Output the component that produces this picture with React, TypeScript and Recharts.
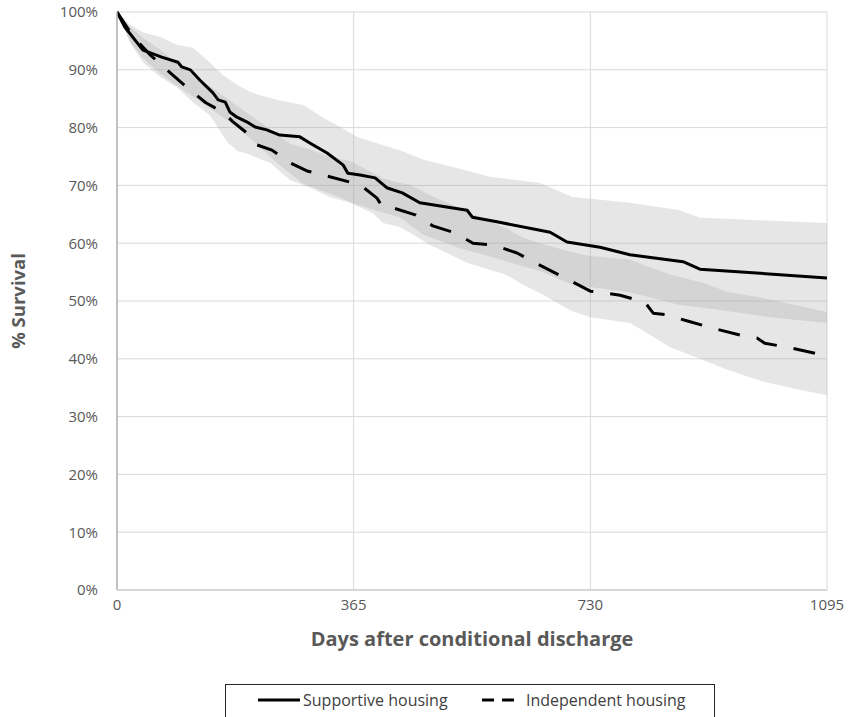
import React from "react";
import { ComposedChart, Area, Line, XAxis, YAxis, CartesianGrid } from "recharts";

// Supportive housing (solid line) – days and % survival
const supDays = [0, 12, 40, 69, 94, 100, 113, 128, 148, 156, 167, 174, 185, 200, 213, 231, 251, 282, 298, 324, 349, 356, 375, 398, 416, 440, 467, 540, 548, 586, 668, 694, 745, 791, 873, 899, 1095];
const supVals = [100, 97.4, 93.4, 92.2, 91.3, 90.5, 90.0, 88.2, 86.0, 84.8, 84.4, 82.7, 81.8, 81.0, 80.1, 79.6, 78.7, 78.4, 77.3, 75.6, 73.5, 72.1, 71.8, 71.3, 69.6, 68.7, 67.0, 65.7, 64.5, 63.7, 61.9, 60.2, 59.3, 58.0, 56.8, 55.5, 54.0];

// Independent housing (dashed line)
const indDays = [0, 25, 51, 69, 91, 116, 137, 163, 179, 200, 216, 239, 267, 293, 328, 375, 401, 409, 426, 460, 487, 521, 549, 580, 617, 652, 691, 730, 776, 814, 827, 848, 884, 922, 961, 987, 999, 1038, 1095];
const indVals = [100, 95.7, 92.6, 90.8, 88.6, 86.2, 84.3, 82.7, 81.0, 79.1, 77.0, 76.1, 73.9, 72.5, 71.5, 70.1, 67.8, 66.3, 66.1, 64.9, 63.0, 61.8, 60.0, 59.7, 58.3, 56.2, 54.0, 51.7, 51.0, 49.8, 47.9, 47.6, 46.4, 45.2, 44.1, 43.6, 42.7, 41.9, 40.5];

// Supportive housing 95% CI band
const supBandDays = [0, 20, 40, 66, 93, 117, 143, 163, 185, 205, 221, 251, 287, 318, 344, 370, 401, 436, 472, 524, 575, 652, 703, 791, 868, 899, 1007, 1095];
const supBandHigh = [100, 97.8, 96.5, 95.7, 94.3, 93.8, 91.3, 89.1, 87.4, 86.2, 85.6, 84.7, 83.9, 81.7, 80.1, 78.4, 77.3, 76.1, 74.5, 73.0, 71.5, 70.4, 68.0, 67.0, 65.7, 64.4, 63.9, 63.5];
const supBandLow = [100, 94.8, 92.0, 89.4, 87.2, 85.4, 83.3, 81.8, 80.0, 78.2, 76.5, 73.5, 70.3, 69.0, 67.9, 66.7, 65.6, 64.5, 61.5, 59.3, 57.7, 55.2, 52.8, 51.5, 49.3, 48.9, 47.2, 46.2];

// Independent housing 95% CI band
const indBandDays = [0, 20, 40, 66, 93, 117, 143, 170, 185, 205, 236, 267, 298, 328, 359, 395, 410, 436, 452, 483, 540, 575, 601, 626, 652, 699, 730, 791, 817, 853, 904, 941, 992, 1038, 1095];
const indBandHigh = [100, 97.5, 95.5, 93.5, 91.0, 89.2, 87.2, 85.0, 83.8, 82.2, 79.7, 77.2, 76.2, 74.9, 74.2, 72.1, 71.2, 70.4, 70.1, 68.3, 65.5, 63.8, 62.5, 61.0, 60.0, 58.5, 57.8, 57.2, 56.0, 54.6, 53.1, 51.6, 50.6, 49.5, 48.1];
const indBandLow = [100, 94.8, 91.3, 88.8, 86.9, 84.4, 82.2, 77.5, 76.0, 75.3, 73.9, 70.9, 69.6, 68.0, 67.0, 65.2, 63.5, 62.8, 61.8, 59.7, 56.6, 55.4, 54.5, 52.8, 51.4, 48.4, 47.2, 46.2, 44.5, 42.0, 39.8, 38.1, 36.2, 35.0, 33.7];

const xTicks = [0, 365, 730, 1095];
const yTicks = [0, 10, 20, 30, 40, 50, 60, 70, 80, 90, 100];
const seriesNames = ["Supportive housing", "Independent housing"];

const FONT = "'Open Sans', 'Liberation Sans', sans-serif";
const GREY = "#595959";

const supLine = supDays.map((d, i) => ({ d, v: supVals[i] }));
const indLine = indDays.map((d, i) => ({ d, v: indVals[i] }));
const supBand = supBandDays.map((d, i) => ({ d, r: [supBandLow[i], supBandHigh[i]] }));
const indBand = indBandDays.map((d, i) => ({ d, r: [indBandLow[i], indBandHigh[i]] }));

export default function App() {
  return (
    <div style={{ position: "absolute", left: 0, top: 0, width: 848, height: 717, overflow: "hidden", background: "#fff" }}>
      <ComposedChart width={848} height={717} margin={{ top: 12, right: 21, bottom: 87, left: 0 }}>
        <CartesianGrid stroke="#d9d9d9" strokeWidth={1} ticks={yTicks} />
        <XAxis
          type="number"
          dataKey="d"
          domain={[0, 1095]}
          ticks={xTicks}
          allowDataOverflow
          height={40}
          tickSize={0}
          tickMargin={9}
          axisLine={{ stroke: "#d0d0d0", strokeWidth: 1.5 }}
          tickLine={false}
          tick={{ fill: GREY, fontSize: 15, fontFamily: FONT }}
          label={{ value: "Days after conditional discharge", position: "bottom", offset: 2, style: { fontWeight: 700, fontSize: 20, fill: GREY, fontFamily: FONT } }}
        />
        <YAxis
          type="number"
          domain={[0, 100]}
          ticks={yTicks}
          width={117}
          tickSize={0}
          tickMargin={19}
          axisLine={{ stroke: "#b3b3b3", strokeWidth: 1.5 }}
          tickLine={false}
          tickFormatter={(v) => `${v}%`}
          tick={{ fill: GREY, fontSize: 15, fontFamily: FONT }}
          label={{ value: "% Survival", angle: -90, position: "insideLeft", offset: 18, style: { textAnchor: "middle", fontWeight: 700, fontSize: 18.5, fill: GREY, fontFamily: FONT } }}
        />
        <Area data={supBand} dataKey="r" type="linear" stroke="none" fill="#a6a7aa" fillOpacity={0.28} isAnimationActive={false} dot={false} activeDot={false} />
        <Area data={indBand} dataKey="r" type="linear" stroke="none" fill="#a6a7aa" fillOpacity={0.28} isAnimationActive={false} dot={false} activeDot={false} />
        <Line data={supLine} dataKey="v" name={seriesNames[0]} type="linear" stroke="#000" strokeWidth={3} dot={false} activeDot={false} isAnimationActive={false} strokeLinejoin="round" />
        <Line data={indLine} dataKey="v" name={seriesNames[1]} type="linear" stroke="#000" strokeWidth={3} strokeDasharray="22 17" dot={false} activeDot={false} isAnimationActive={false} strokeLinejoin="round" />
      </ComposedChart>
      <div
        style={{
          position: "absolute",
          left: 225,
          top: 684,
          width: 490,
          height: 50,
          border: "1px solid #262626",
          boxSizing: "border-box",
        }}
      />
      <div style={{ position: "absolute", left: 258, top: 689, display: "flex", alignItems: "center", whiteSpace: "nowrap", fontFamily: FONT, fontSize: 16, color: "#404040" }}>
        <svg width={42} height={22} style={{ marginRight: 3 }}>
          <line x1={0} y1={11} x2={42} y2={11} stroke="#000" strokeWidth={3} />
        </svg>
        <span>{seriesNames[0]}</span>
      </div>
      <div style={{ position: "absolute", left: 482, top: 689, display: "flex", alignItems: "center", whiteSpace: "nowrap", fontFamily: FONT, fontSize: 16, color: "#404040" }}>
        <svg width={40} height={22} style={{ marginRight: 4 }}>
          <line x1={0} y1={11} x2={40} y2={11} stroke="#000" strokeWidth={3} strokeDasharray="12 8" />
        </svg>
        <span>{seriesNames[1]}</span>
      </div>
    </div>
  );
}
